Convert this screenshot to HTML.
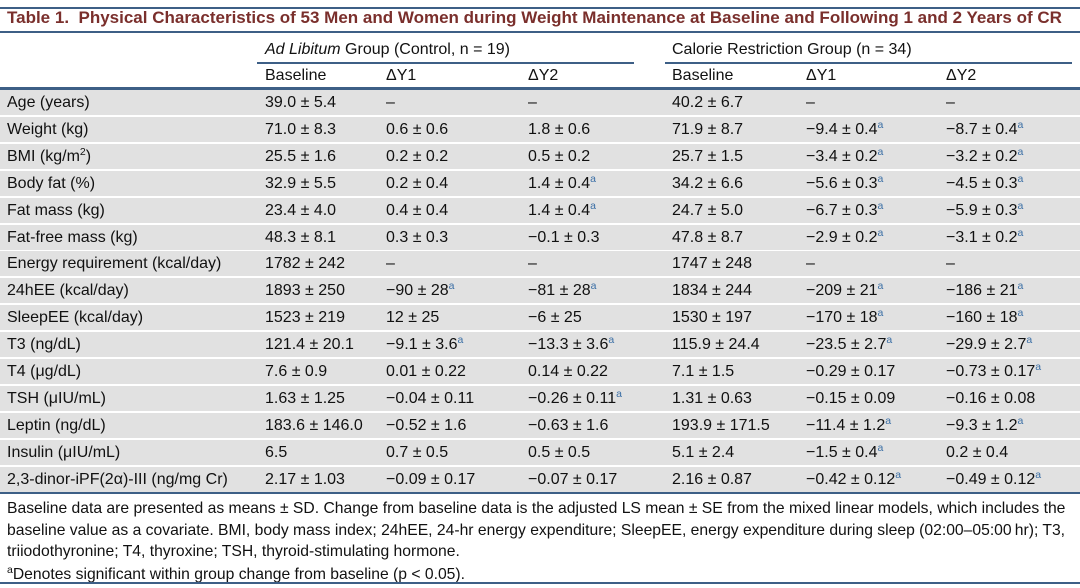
<!DOCTYPE html>
<html><head><meta charset="utf-8"><style>
body{margin:0;width:1080px;height:588px;background:#fff;font-family:"Liberation Sans",Arial,sans-serif;font-size:16px;color:#111;position:relative;overflow:hidden}
.rule{position:absolute;background:#3d5f86}
.t{position:absolute;white-space:nowrap;line-height:18px}
.row{position:absolute;left:0;width:1080px;height:25px;background:#e1e1e1}
.row span{position:absolute;top:4px;white-space:nowrap;line-height:18px}
sup{font-size:10.5px;color:#3a6ea5;line-height:0;vertical-align:6px}
.fn{position:absolute;left:7px;width:1070px;line-height:21.5px;font-size:15.7px}
</style></head><body>
<div class="rule" style="left:0;top:7px;width:1080px;height:2px"></div>
<div class="t" style="left:7px;top:8px;font-weight:bold;color:#7a2f2c;font-size:17px;line-height:20px">Table 1.&nbsp; Physical Characteristics of 53 Men and Women during Weight Maintenance at Baseline and Following 1 and 2 Years of CR</div>
<div class="rule" style="left:0;top:31px;width:1080px;height:2px"></div>
<div class="t" style="left:265px;top:41px"><i>Ad Libitum</i> Group (Control, n = 19)</div>
<div class="t" style="left:672px;top:41px">Calorie Restriction Group (n = 34)</div>
<div class="rule" style="left:257px;top:62px;width:377px;height:2px"></div>
<div class="rule" style="left:665px;top:62px;width:407px;height:2px"></div>
<div class="t" style="left:265px;top:67px">Baseline</div>
<div class="t" style="left:386px;top:67px">ΔY1</div>
<div class="t" style="left:528px;top:67px">ΔY2</div>
<div class="t" style="left:672px;top:67px">Baseline</div>
<div class="t" style="left:806px;top:67px">ΔY1</div>
<div class="t" style="left:946px;top:67px">ΔY2</div>
<div class="rule" style="left:0;top:87px;width:1080px;height:3px"></div>
<div id="rows"></div>
<div class="rule" style="left:0;top:492px;width:1080px;height:2px"></div>
<div class="fn" style="top:498px">Baseline data are presented as means ± SD. Change from baseline data is the adjusted LS mean ± SE from the mixed linear models, which includes the baseline value as a covariate. BMI, body mass index; 24hEE, 24-hr energy expenditure; SleepEE, energy expenditure during sleep (02:00–05:00&#8201;hr); T3, triiodothyronine; T4, thyroxine; TSH, thyroid-stimulating hormone.</div>
<div class="fn" style="top:564px"><sup style="color:#111">a</sup>Denotes significant within group change from baseline (p &lt; 0.05).</div>
<div class="rule" style="left:0;top:582px;width:1080px;height:2px"></div>
<script>
var a='<sup>a</sup>';
var d=[
["Age (years)","39.0 ± 5.4","–","–","40.2 ± 6.7","–","–"],
["Weight (kg)","71.0 ± 8.3","0.6 ± 0.6","1.8 ± 0.6","71.9 ± 8.7","−9.4 ± 0.4"+a,"−8.7 ± 0.4"+a],
["BMI (kg/m<sup style='color:#111'>2</sup>)","25.5 ± 1.6","0.2 ± 0.2","0.5 ± 0.2","25.7 ± 1.5","−3.4 ± 0.2"+a,"−3.2 ± 0.2"+a],
["Body fat (%)","32.9 ± 5.5","0.2 ± 0.4","1.4 ± 0.4"+a,"34.2 ± 6.6","−5.6 ± 0.3"+a,"−4.5 ± 0.3"+a],
["Fat mass (kg)","23.4 ± 4.0","0.4 ± 0.4","1.4 ± 0.4"+a,"24.7 ± 5.0","−6.7 ± 0.3"+a,"−5.9 ± 0.3"+a],
["Fat-free mass (kg)","48.3 ± 8.1","0.3 ± 0.3","−0.1 ± 0.3","47.8 ± 8.7","−2.9 ± 0.2"+a,"−3.1 ± 0.2"+a],
["Energy requirement (kcal/day)","1782 ± 242","–","–","1747 ± 248","–","–"],
["24hEE (kcal/day)","1893 ± 250","−90 ± 28"+a,"−81 ± 28"+a,"1834 ± 244","−209 ± 21"+a,"−186 ± 21"+a],
["SleepEE (kcal/day)","1523 ± 219","12 ± 25","−6 ± 25","1530 ± 197","−170 ± 18"+a,"−160 ± 18"+a],
["T3 (ng/dL)","121.4 ± 20.1","−9.1 ± 3.6"+a,"−13.3 ± 3.6"+a,"115.9 ± 24.4","−23.5 ± 2.7"+a,"−29.9 ± 2.7"+a],
["T4 (μg/dL)","7.6 ± 0.9","0.01 ± 0.22","0.14 ± 0.22","7.1 ± 1.5","−0.29 ± 0.17","−0.73 ± 0.17"+a],
["TSH (μIU/mL)","1.63 ± 1.25","−0.04 ± 0.11","−0.26 ± 0.11"+a,"1.31 ± 0.63","−0.15 ± 0.09","−0.16 ± 0.08"],
["Leptin (ng/dL)","183.6 ± 146.0","−0.52 ± 1.6","−0.63 ± 1.6","193.9 ± 171.5","−11.4 ± 1.2"+a,"−9.3 ± 1.2"+a],
["Insulin (μIU/mL)","6.5","0.7 ± 0.5","0.5 ± 0.5","5.1 ± 2.4","−1.5 ± 0.4"+a,"0.2 ± 0.4"],
["2,3-dinor-iPF(2α)-III (ng/mg Cr)","2.17 ± 1.03","−0.09 ± 0.17","−0.07 ± 0.17","2.16 ± 0.87","−0.42 ± 0.12"+a,"−0.49 ± 0.12"+a]];
var xs=[7,265,386,528,672,806,946],h='';
d.forEach(function(r,i){h+='<div class="row" style="top:'+(90+i*26.9).toFixed(1)+'px">';r.forEach(function(c,j){h+='<span style="left:'+xs[j]+'px">'+c+'</span>'});h+='</div>'});
document.getElementById('rows').innerHTML=h;
</script>
</body></html>
